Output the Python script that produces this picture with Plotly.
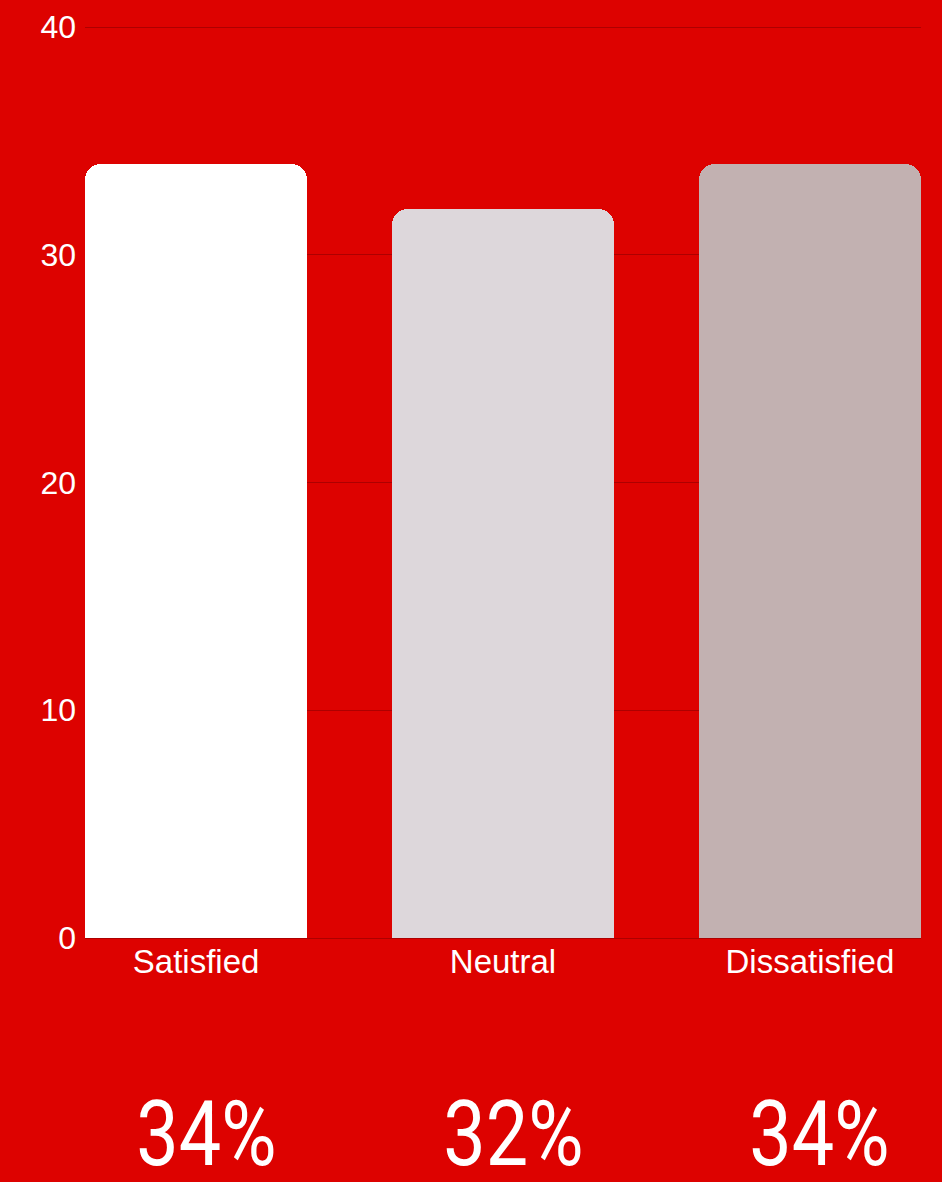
import plotly.graph_objects as go

# Survey response shares
categories = ["Satisfied", "Neutral", "Dissatisfied"]
values = [34, 32, 34]
bar_colors = ["#ffffff", "#ddd7db", "#c2b1b1"]
y_ticks = [0, 10, 20, 30, 40]

BG = "#dd0200"
GRID = "#ad0000"

fig = go.Figure(
    go.Bar(
        x=list(range(len(categories))),
        y=values,
        width=0.724,
        marker=dict(color=bar_colors, line=dict(width=0), cornerradius=16),
        hoverinfo="skip",
    )
)

# Big percentage labels beneath each category
for i, v in enumerate(values):
    fig.add_annotation(
        x=i, xref="x",
        y=-0.214, yref="paper",
        text=f"{v}%",
        showarrow=False,
        xshift=10,
        font=dict(family="Roboto, sans-serif", size=90, color="#ffffff"),
        xanchor="center", yanchor="middle",
    )

fig.update_layout(
    width=942, height=1182,
    paper_bgcolor=BG, plot_bgcolor=BG,
    margin=dict(l=85, r=21, t=18, b=244),
    showlegend=False,
    bargap=0,
    font=dict(family="Liberation Sans, Arial, sans-serif", size=32, color="#ffffff"),
)
fig.update_xaxes(
    range=[-0.362, 2.362],
    automargin=False,
    tickmode="array",
    tickvals=list(range(len(categories))),
    ticktext=categories,
    showgrid=False,
    zeroline=False,
    showline=True, linecolor=GRID, linewidth=1,
    ticks="",
    ticklabelstandoff=-6,
    tickfont=dict(size=33, color="#ffffff"),
)
fig.update_yaxes(
    range=[0, 40.4],
    automargin=False,
    tickmode="array",
    tickvals=y_ticks,
    showgrid=True, gridcolor=GRID, gridwidth=1,
    zeroline=False,
    showline=False,
    ticks="",
    ticklabelstandoff=8,
    tickfont=dict(size=32, color="#ffffff"),
)

# Narrow the big percentage figures horizontally around their own centres
condense_js = """
var gd = document.getElementById('{plot_id}');
function condense() {
  gd.querySelectorAll('.annotation-text').forEach(function (t) {
    t.removeAttribute('transform');
    var bb = t.getBBox();
    var cx = bb.x + bb.width / 2;
    t.setAttribute('transform',
      'translate(' + cx + ',0) scale(0.84,1) translate(' + (-cx) + ',0)');
  });
}
condense();
gd.on('plotly_afterplot', condense);
"""

fig.write_html("out.html", post_script=condense_js)
